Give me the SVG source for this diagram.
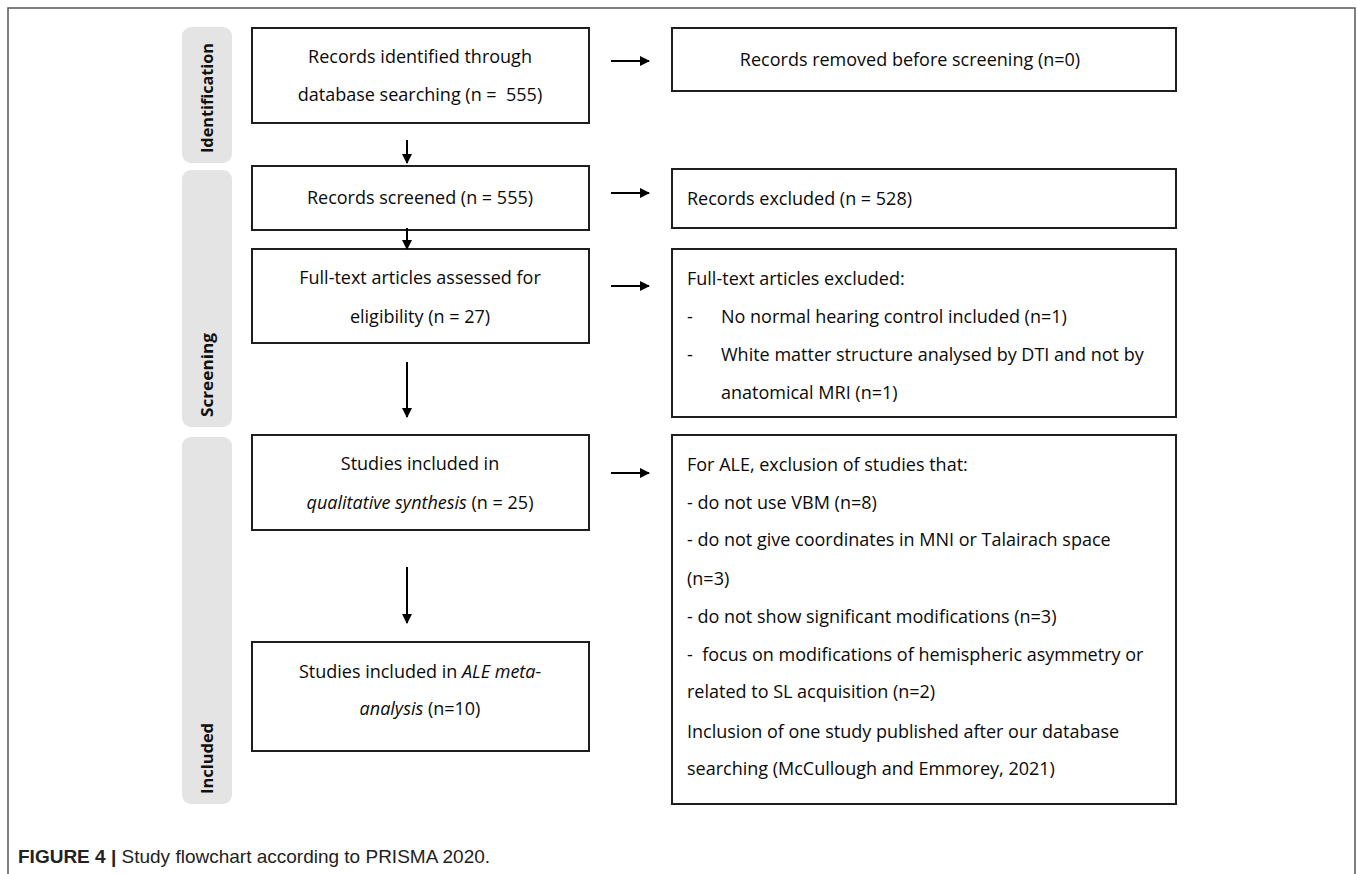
<svg xmlns="http://www.w3.org/2000/svg" width="1357" height="874" viewBox="0 0 1357 874">
<defs>
<style>
.box{fill:#fff;stroke:#1e1e1e;stroke-width:2}
.phase{fill:#e4e4e4}
.ph{font-family:"Open Sans","Noto Sans","DejaVu Sans",sans-serif;font-weight:700;font-size:16px;fill:#111}
.t{font-family:"Open Sans","Noto Sans","DejaVu Sans",sans-serif;font-size:18px;font-weight:500;fill:#0a0a0a}
.c{text-anchor:middle}
.i{font-style:italic}
.conn{stroke:#000;stroke-width:2;fill:none}
.cap{font-family:"Liberation Sans",Arial,sans-serif;font-size:19px;fill:#222}
</style>
<marker id="ah" viewBox="0 0 10 10" refX="9" refY="5" markerWidth="10" markerHeight="10" markerUnits="userSpaceOnUse" orient="auto">
<path d="M0,0 L10,5 L0,10 z" fill="#000"/>
</marker>
</defs>
<rect width="1357" height="874" fill="#fff"/>
<path d="M8,874 V8 H1355 V874" fill="none" stroke="#555" stroke-width="1.5"/>

<g id="phase-identification">
<rect class="phase" x="182" y="27" width="50" height="136" rx="9"/>
<text class="ph" transform="translate(213,153) rotate(-90)" textLength="110" lengthAdjust="spacingAndGlyphs">Identification</text>
</g>
<g id="phase-screening">
<rect class="phase" x="182" y="170" width="50" height="257" rx="9"/>
<text class="ph" transform="translate(213,417) rotate(-90)" textLength="84" lengthAdjust="spacingAndGlyphs">Screening</text>
</g>
<g id="phase-included">
<rect class="phase" x="182" y="437" width="50" height="367" rx="9"/>
<text class="ph" transform="translate(213,794) rotate(-90)" textLength="71" lengthAdjust="spacingAndGlyphs">Included</text>
</g>

<g id="n-identified">
<rect class="box" x="252" y="28" width="337" height="95"/>
<text class="t c" x="420" y="63">Records identified through</text>
<text class="t c" x="420" y="101" xml:space="preserve">database searching (n =  555)</text>
</g>
<g id="n-screened">
<rect class="box" x="252" y="166" width="337" height="64"/>
<text class="t c" x="420" y="204">Records screened (n = 555)</text>
</g>
<g id="n-fulltext">
<rect class="box" x="252" y="249" width="337" height="94"/>
<text class="t c" x="420" y="284">Full-text articles assessed for</text>
<text class="t c" x="420" y="323">eligibility (n = 27)</text>
</g>
<g id="n-qualitative">
<rect class="box" x="252" y="435" width="337" height="95"/>
<text class="t c" x="420" y="470">Studies included in</text>
<text class="t c" x="420" y="509"><tspan class="i">qualitative synthesis</tspan> (n = 25)</text>
</g>
<g id="n-ale">
<rect class="box" x="252" y="642" width="337" height="109"/>
<text class="t c" x="420" y="678">Studies included in <tspan class="i">ALE meta-</tspan></text>
<text class="t c" x="420" y="715"><tspan class="i">analysis</tspan> (n=10)</text>
</g>

<g id="n-removed">
<rect class="box" x="672" y="28" width="504" height="63"/>
<text class="t c" x="910" y="66">Records removed before screening (n=0)</text>
</g>
<g id="n-excluded">
<rect class="box" x="672" y="169" width="504" height="59"/>
<text class="t" x="687" y="205">Records excluded (n = 528)</text>
</g>
<g id="n-fulltext-excluded">
<rect class="box" x="672" y="249" width="504" height="168"/>
<text class="t" x="687" y="285">Full-text articles excluded:</text>
<text class="t" x="687" y="323">-</text>
<text class="t" x="721" y="323">No normal hearing control included (n=1)</text>
<text class="t" x="687" y="361">-</text>
<text class="t" x="721" y="361">White matter structure analysed by DTI and not by</text>
<text class="t" x="721" y="399">anatomical MRI (n=1)</text>
</g>
<g id="n-ale-excluded">
<rect class="box" x="672" y="435" width="504" height="369"/>
<text class="t" x="687" y="471">For ALE, exclusion of studies that:</text>
<text class="t" x="687" y="509">- do not use VBM (n=8)</text>
<text class="t" x="687" y="546">- do not give coordinates in MNI or Talairach space</text>
<text class="t" x="687" y="585">(n=3)</text>
<text class="t" x="687" y="623">- do not show significant modifications (n=3)</text>
<text class="t" x="687" y="661" xml:space="preserve">-  focus on modifications of hemispheric asymmetry or</text>
<text class="t" x="687" y="698">related to SL acquisition (n=2)</text>
<text class="t" x="687" y="738">Inclusion of one study published after our database</text>
<text class="t" x="687" y="775">searching (McCullough and Emmorey, 2021)</text>
</g>

<g id="connectors">
<line class="conn" x1="407" y1="140" x2="407" y2="163" marker-end="url(#ah)"/>
<line class="conn" x1="407" y1="228" x2="407" y2="249" marker-end="url(#ah)"/>
<line class="conn" x1="407" y1="362" x2="407" y2="417" marker-end="url(#ah)"/>
<line class="conn" x1="407" y1="567" x2="407" y2="623" marker-end="url(#ah)"/>
<line class="conn" x1="611" y1="61" x2="649" y2="61" marker-end="url(#ah)"/>
<line class="conn" x1="611" y1="193" x2="649" y2="193" marker-end="url(#ah)"/>
<line class="conn" x1="611" y1="286" x2="649" y2="286" marker-end="url(#ah)"/>
<line class="conn" x1="611" y1="473" x2="649" y2="473" marker-end="url(#ah)"/>
</g>

<g id="caption">
<text class="cap" x="18" y="863"><tspan font-weight="700">FIGURE 4 |</tspan> Study flowchart according to PRISMA 2020.</text>
</g>
</svg>
